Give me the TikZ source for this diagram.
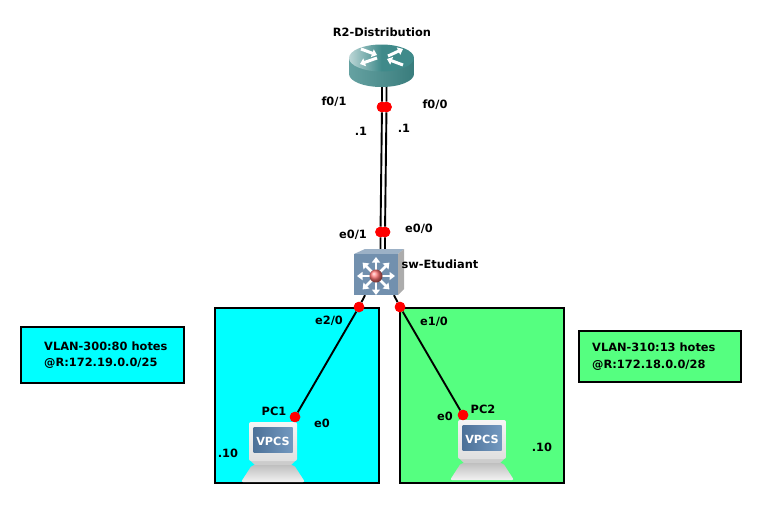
\documentclass[tikz,border=0pt]{standalone}
\usepackage{fontspec}
\setmainfont{DejaVu Sans}
\usetikzlibrary{arrows.meta,positioning,calc}
\definecolor{vlancyan}{HTML}{00FFFF}
\definecolor{vlangreen}{HTML}{55FF80}
\definecolor{routerteal}{HTML}{3F8A8A}
\definecolor{switchblue}{HTML}{7290AE}
\definecolor{screenblue}{HTML}{5A86B4}
\tikzset{
  lbl/.style={font=\bfseries\fontsize{11.4}{16.5}\selectfont, text=black, inner sep=0pt},
  zonebox/.style={draw=black, line width=2pt, anchor=north west, inner sep=0pt, outer sep=0pt},
  link/.style={draw=black, line width=1.9pt},
  dot/.style={circle, fill=red, minimum size=10.5pt, inner sep=0pt},
  device/.style={inner sep=0pt, anchor=center},
  routerarrow/.style={white, line width=3pt, -{Triangle[length=5pt,width=8pt]}},
  switcharrow/.style={white, line width=2.6pt, -{Triangle[length=5.5pt,width=8pt]}},
  pcicon/.pic={
    % keyboard and neck
    \fill[gray!40] (-22,20) -- (22,20) -- (18,24) -- (-18,24) -- cycle;
    \shade[top color=gray!50, bottom color=gray!10, rounded corners=2pt]
      (-21,24) -- (21,24) -- (32,41) -- (-32,41) -- cycle;
    % monitor and screen
    \shade[top color=gray!8, bottom color=gray!25, rounded corners=2pt]
      (-24,-19) rectangle (24,20);
    \shade[left color=screenblue!85!black, right color=screenblue!85!white] (-19.5,-13.5) rectangle (19.5,11.5);
    \node[font=\bfseries\fontsize{11.2}{13}\selectfont, text=white, inner sep=0pt] at (0,0) {VPCS};
  }
}
\begin{document}
\begin{tikzpicture}[x=1pt,y=-1pt]
\useasboundingbox (0,0) rectangle (762,504);

% zones and notes
\node[zonebox, fill=vlancyan, minimum width=164pt, minimum height=175pt] (zone300) at (215,308) {};
\node[zonebox, fill=vlangreen, minimum width=164pt, minimum height=175pt] (zone310) at (400,308) {};
\node[zonebox, fill=vlancyan, minimum width=163pt, minimum height=56pt] (note300) at (21,327) {};
\node[zonebox, fill=vlangreen, minimum width=162pt, minimum height=51pt] (note310) at (579,331) {};
\node[lbl, anchor=west, align=left, xshift=23pt] at (note300.west) {VLAN-300:80 hotes\\@R:172.19.0.0/25};
\node[lbl, anchor=west, align=left, xshift=13pt] at (note310.west) {VLAN-310:13 hotes\\@R:172.18.0.0/28};

% devices
\node[device, minimum width=65pt, minimum height=42pt] (r2) at (381.5,65) {};
\node[device, minimum width=50pt, minimum height=46pt] (sw) at (379,272) {};
\node[device, minimum width=64pt, minimum height=60pt] (pc1) at (273,451) {};
\node[device, minimum width=64pt, minimum height=60pt] (pc2) at (482,449) {};

% interface dots
\node[dot] (f01) at (382,107) {};
\node[dot] (f00) at (386.5,107) {};
\node[dot] (e01) at (380.5,232) {};
\node[dot] (e00) at (385,232) {};
\node[dot] (e20) at (359,307) {};
\node[dot] (e10) at (400,307) {};
\node[dot] (pc1e) at (295,417) {};
\node[dot] (pc2e) at (463,415) {};

% links
\draw[link] (r2.south -| f01) -- (f01) -- (e01) -- (e01 |- sw.north);
\draw[link] (r2.south -| f00) -- (f00) -- (e00) -- (e00 |- sw.north);
\draw[link] (sw.south -| 365,0) -- (e20) -- (pc1e);
\draw[link] (sw.south -| 394,0) -- (e10) -- (pc2e);
\node[dot] at (f01) {};
\node[dot] at (f00) {};
\node[dot] at (e01) {};
\node[dot] at (e00) {};
\node[dot] at (e20) {};
\node[dot] at (e10) {};

% router
\shade[left color=routerteal!80!white, right color=routerteal!90!black]
  (349,58) -- (349,74) arc[start angle=180, end angle=360, x radius=32.5pt, y radius=13pt] -- (414,58) -- cycle;
\shade[left color=routerteal!35!white, right color=routerteal, middle color=routerteal]
  (381.5,58) ellipse[x radius=32.5pt, y radius=13.5pt];
\draw[routerarrow] (361,49) -- (377,55);
\draw[routerarrow] (388,56) -- (403,49);
\draw[routerarrow] (377,58) -- (360,64);
\draw[routerarrow] (403,65) -- (387,59);

% switch
\fill[switchblue!70!white] (354,254) -- (365,249) -- (404,249) -- (398,254) -- cycle;
\fill[gray!65] (398,254) -- (404,249) -- (404,289) -- (398,295) -- cycle;
\fill[switchblue] (354,254) rectangle (398,295);
\foreach \ang in {0,45,...,315}
  \draw[switcharrow] (376,276) -- ++(\ang:19pt);
\shade[ball color=red!55!white] (376,276) circle (6.5pt);

% PCs
\pic at (273,441) {pcicon};
\pic at (482,439) {pcicon};

\node[dot] at (pc1e) {};
\node[dot] at (pc2e) {};

% labels
\node[lbl] (r2name) at (382,32) {R2-Distribution};
\node[lbl] (swname) at (440,264) {sw-Etudiant};
\node[lbl] (pc1name) at (274,411) {PC1};
\node[lbl] (pc2name) at (483,409) {PC2};
\node[lbl] (f01lbl) at (334,102) {f0/1};
\node[lbl] (f00lbl) at (435,105) {f0/0};
\node[lbl] (ip1a) at (361,131) {.1};
\node[lbl] (ip1b) at (404,128) {.1};
\node[lbl] (e01lbl) at (353,235) {e0/1};
\node[lbl] (e00lbl) at (419,229) {e0/0};
\node[lbl] (e20lbl) at (329,321) {e2/0};
\node[lbl] (e10lbl) at (434,322) {e1/0};
\node[lbl] (pc1if) at (322,423) {e0};
\node[lbl] (pc2if) at (445,416) {e0};
\node[lbl] (ip10a) at (228,453) {.10};
\node[lbl] (ip10b) at (542,447) {.10};
\end{tikzpicture}
\end{document}
